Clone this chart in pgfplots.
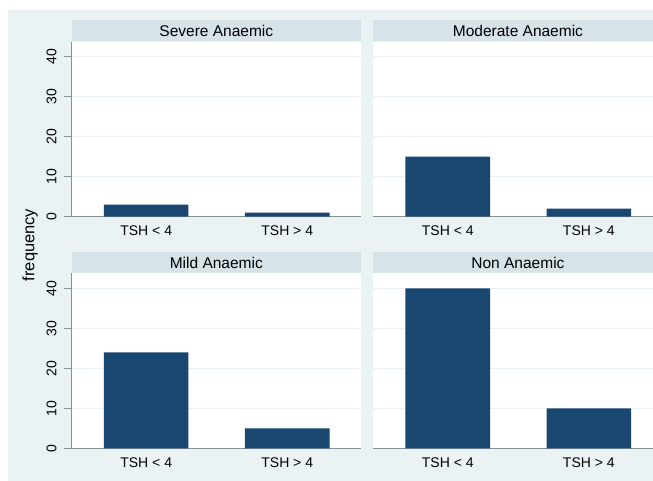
\documentclass[border=0pt]{standalone}
\usepackage{pgfplots}
\pgfplotsset{compat=1.18}
\usepackage{fontspec}
\setmainfont{Liberation Sans}
\definecolor{bgc}{RGB}{234,242,243}
\definecolor{stripc}{RGB}{214,227,232}
\definecolor{barc}{RGB}{26,71,111}
\definecolor{axc}{RGB}{135,145,150}
\pgfplotsset{
  panel/.style={
    anchor=south west, scale only axis, width=289.3pt, height=175pt,
    xmin=-0.528, xmax=1.523, ymin=0, ymax=43.75,
    axis background/.style={fill=white},
    axis x line*=bottom, axis y line*=left,
    x axis line style={axc, line width=1pt, -},
    y axis line style={axc, line width=1pt, -},
    xtick={0,1}, xticklabels={TSH < 4, TSH > 4},
    xtick style={draw=none},
    xticklabel style={font=\fontsize{14}{14}\selectfont, inner sep=0pt, yshift=-1pt},
    ytick={0,10,20,30,40},
    /pgf/number format/assume math mode=true,
    tick align=outside, major tick length=8pt,
    ytick style={axc, line width=1pt},
    yticklabel style={rotate=90, anchor=south, inner sep=0pt, font=\fontsize{14}{14}\selectfont, yshift=7pt},
    ymajorgrids, grid style={bgc, line width=1.5pt},
    ybar, bar width=0.6,
    every axis title shift=0pt,
    title style={at={(0.5,1)}, anchor=south, yshift=0pt, fill=stripc, minimum width=289.3pt,
      minimum height=21pt, inner sep=0pt, font=\fontsize{15.5}{15.5}\selectfont},
  },
  rpanel/.style={panel, y axis line style={draw=none}, ytick style={draw=none}, yticklabels={}},
}
\begin{document}
\begin{tikzpicture}[x=1pt,y=1pt]
\path[use as bounding box] (0pt,0pt) rectangle (653pt,481pt);
\clip (0pt,0pt) rectangle (653pt,481pt);
\fill[bgc] (8pt,0pt) rectangle (653pt,471pt);
\begin{axis}[panel, at={(71.7pt,264.3pt)}, title={Severe Anaemic}]
\addplot[fill=barc, draw=none] coordinates {(0,3) (1,1)};
\end{axis}
\begin{axis}[rpanel, at={(373.3pt,264.3pt)}, title={Moderate Anaemic}]
\addplot[fill=barc, draw=none] coordinates {(0,15) (1,2)};
\end{axis}
\begin{axis}[panel, at={(71.7pt,32.7pt)}, title={Mild Anaemic}]
\addplot[fill=barc, draw=none] coordinates {(0,24) (1,5)};
\end{axis}
\begin{axis}[rpanel, at={(373.3pt,32.7pt)}, title={Non Anaemic}]
\addplot[fill=barc, draw=none] coordinates {(0,40) (1,10)};
\end{axis}
\node[rotate=90, font=\fontsize{16.5}{16.5}\selectfont] at (30pt,236pt) {frequency};
\end{tikzpicture}
\end{document}
